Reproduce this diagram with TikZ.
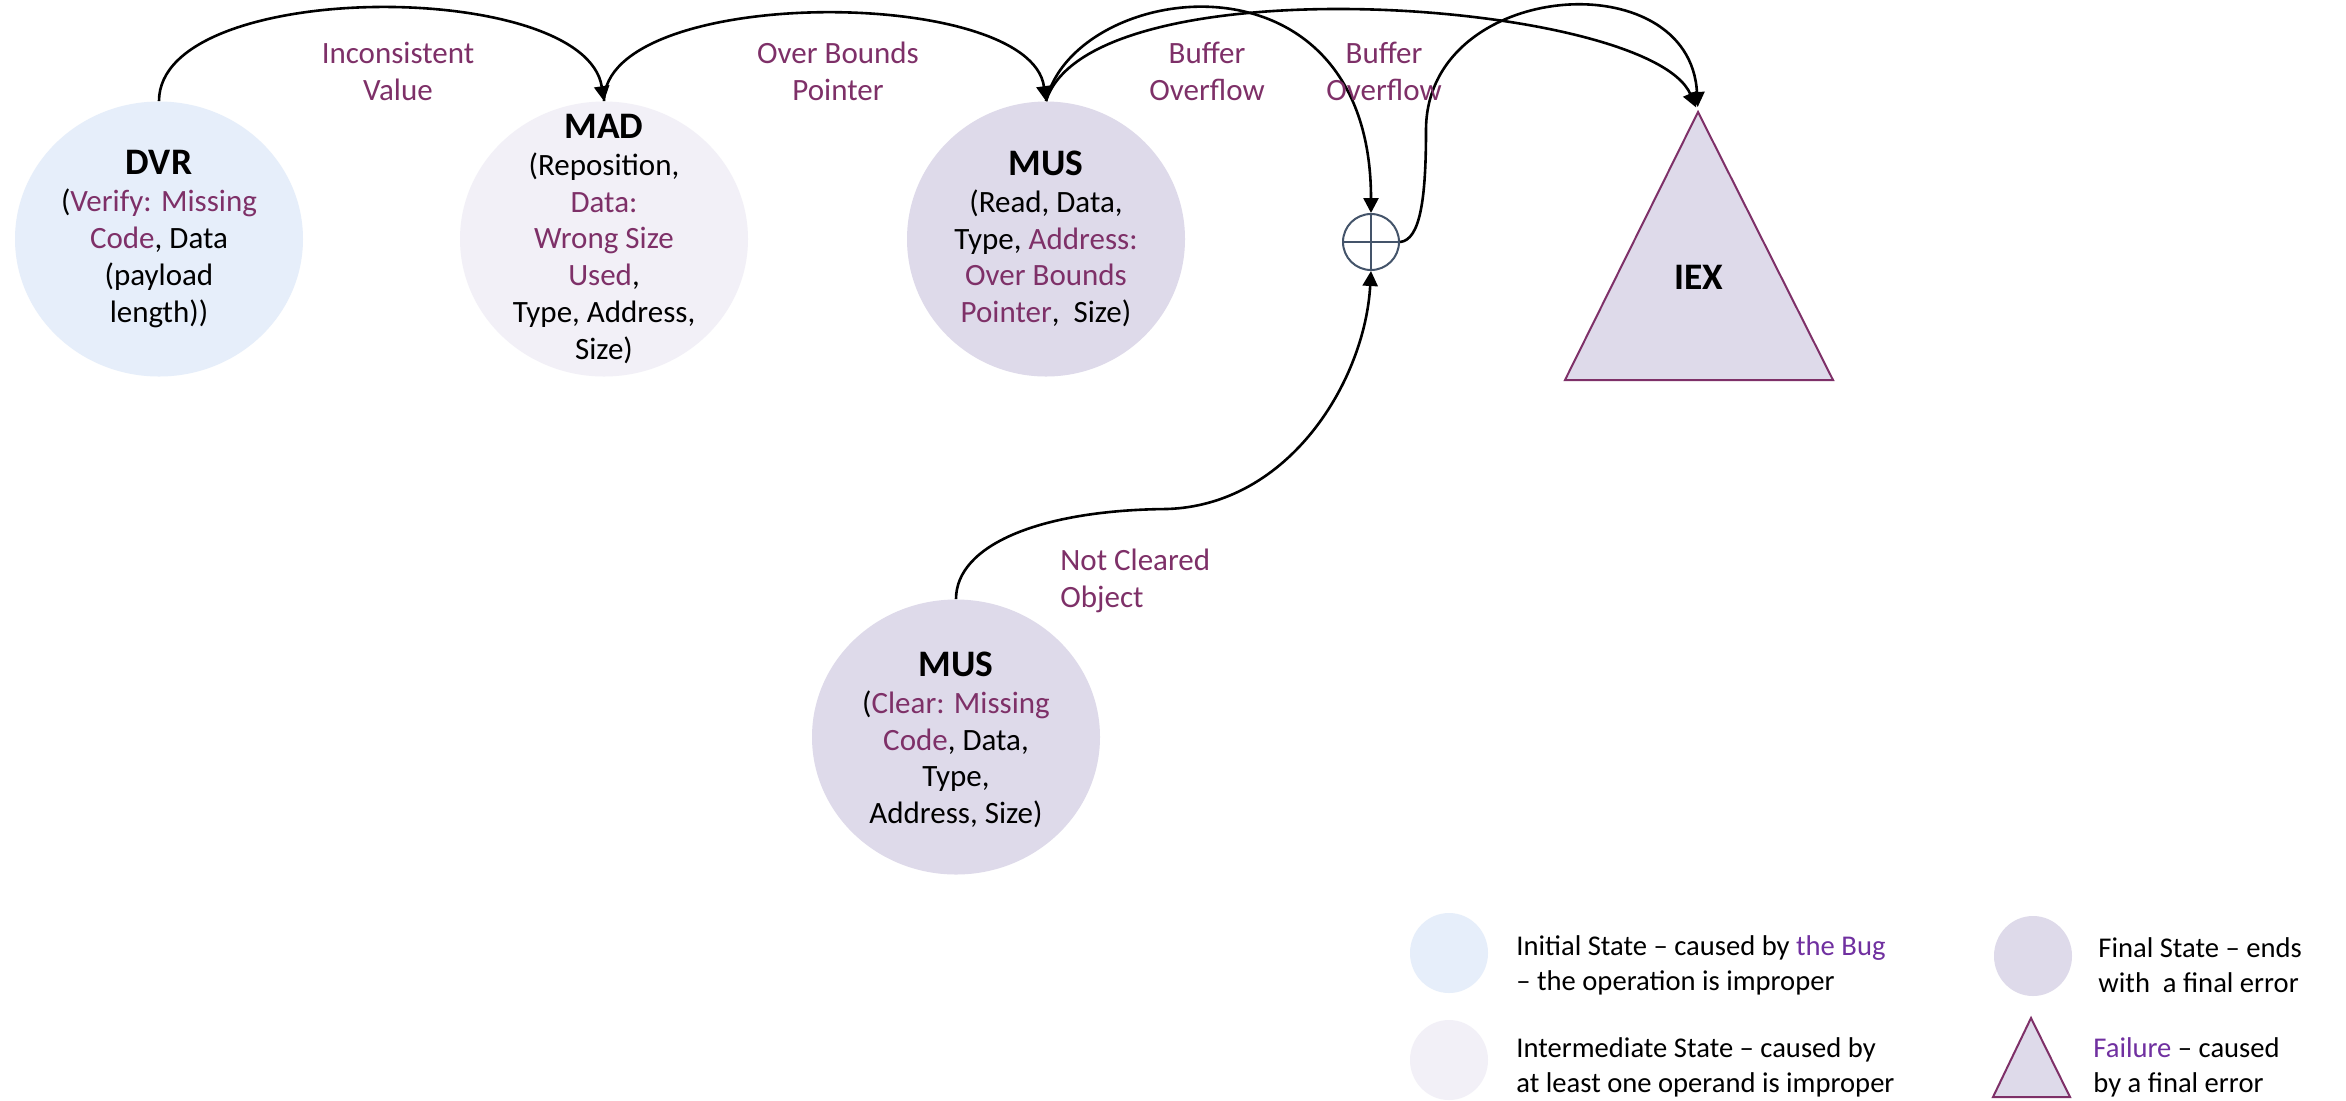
\documentclass[tikz,border=0pt]{standalone}
\usepackage{fontspec}
\setmainfont{Carlito}
\usetikzlibrary{arrows.meta,shapes.geometric}
\definecolor{lbl}{HTML}{7E3068}
\definecolor{bug}{HTML}{7030A0}
\definecolor{initfill}{HTML}{E6EEFA}
\definecolor{midfill}{HTML}{F2F0F7}
\definecolor{finfill}{HTML}{DEDAEA}
\definecolor{trist}{HTML}{7E3068}
\definecolor{xorc}{HTML}{44546A}
\newcommand\statetitle[1]{{\fontsize{18.7}{18.4}\selectfont\bfseries #1}}
\newcommand\pur[1]{\textcolor{lbl}{#1}}
\begin{document}
\begin{tikzpicture}[x=0.5pt,y=-0.5pt,
  stnode/.style={ellipse, draw=none, minimum width=144pt, minimum height=137.5pt, inner sep=0pt},
  sttext/.style={align=center, font=\fontsize{15.5}{18.4}\selectfont, inner sep=0pt},
  lbltext/.style={align=center, text=lbl, font=\fontsize{15.5}{18.5}\selectfont, inner sep=0pt},
  conn/.style={line width=1.3pt, -{Triangle[length=7.5pt,width=7.5pt]}},
  legtext/.style={align=left, anchor=west, font=\fontsize{14.3}{17.6}\selectfont, inner sep=0pt},
  legdot/.style={ellipse, draw=none, minimum width=39pt, minimum height=40pt, inner sep=0pt},
  tri/.style={draw=trist, line width=1pt, fill=finfill, line join=miter}
]
\fill[white] (0,0) rectangle (2346,1100);
\useasboundingbox (0,0) rectangle (2346,1100);

% states
\node[stnode, fill=initfill] (dvr) at (159,239) {};
\node[sttext] (dvrt) at (dvr.center) {\statetitle{DVR}\\(\pur{Verify: Missing}\\\pur{Code}, Data\\(payload\\length))};

\node[stnode, fill=midfill] (mad) at (604,239) {};
\node[sttext] (madt) at (mad.center) {\statetitle{MAD}\\(Reposition,\\\pur{Data:}\\\pur{Wrong Size}\\\pur{Used},\\Type, Address,\\Size)};

\node[stnode, fill=finfill, minimum width=139pt] (mus) at (1046,239) {};
\node[sttext] (must) at (mus.center) {\statetitle{MUS}\\(Read, Data,\\Type, \pur{Address:}\\\pur{Over Bounds}\\\pur{Pointer},~ Size)};

\node[stnode, fill=finfill] (mustwo) at (956,737) {};
\node[sttext] (mustwot) at ([yshift=-1.5pt]mustwo.center) {\statetitle{MUS}\\(\pur{Clear: Missing}\\\pur{Code}, Data,\\Type,\\Address, Size)};

% xor
\node[circle, draw=xorc, line width=1pt, minimum size=28pt, inner sep=0pt] (xor) at (1371,242) {};
\draw[xorc, line width=1pt] (xor.north) -- (xor.south) (xor.west) -- (xor.east);

% failure
\coordinate (iextop) at (1698,112);
\draw[tri] (iextop) -- (1833,380) -- (1565,380) -- cycle;
\node[font=\fontsize{18.7}{20}\selectfont\bfseries, inner sep=0pt] (iex) at (1699,277) {IEX};

% connectors
\draw[conn] (dvr.north) .. controls (159,-22) and (585,-22) .. (mad.north);
\draw[conn] (mad.north) .. controls (604,-15) and (1030,-15) .. (mus.north);
\draw[conn] (mus.north) .. controls (1075,-20) and (1371,-60) .. (xor.north);
\draw[conn, shorten >=2.5pt] (mus.north) .. controls (1090,-40) and (1650,0) .. (iextop);
\draw[conn, shorten >=2.5pt] (xor.east) .. controls (1420,240) and (1426,200) .. (1426,130)
   .. controls (1426,-20) and (1690,-40) .. (iextop);
\draw[conn] (mustwo.north) .. controls (956,545) and (1040,510) .. (1167,509)
   .. controls (1290,505) and (1365,380) .. (xor.south);

% edge labels
\node[lbltext] (l1) at (398,71) {Inconsistent\\Value};
\node[lbltext] (l2) at (838,71) {Over Bounds\\Pointer};
\node[lbltext] (l3) at (1207,71) {Buffer\\Overflow};
\node[lbltext] (l4) at (1384,71) {Buffer\\Overflow};
\node[lbltext, align=left, anchor=west] (l5) at (1060,581) {Not Cleared\\Object};

% legend
\node[legdot, fill=initfill] (lg1) at (1449,953) {};
\node[legtext] (lg1t) at (1516,965) {Initial State – caused by \textcolor{bug}{the Bug}\\– the operation is improper};
\node[legdot, fill=midfill] (lg2) at (1449,1060) {};
\node[legtext] (lg2t) at (1516,1067) {Intermediate State – caused by\\at least one operand is improper};
\node[legdot, fill=finfill] (lg3) at (2033,956) {};
\node[legtext] (lg3t) at (2098,965) {Final State – ends\\with~ a final error};
\draw[tri] (2031,1018) -- (2070,1097) -- (1993,1097) -- cycle;
\node[legtext] (lg4t) at (2093,1067) {\textcolor{bug}{Failure} – caused\\by a final error};
\end{tikzpicture}
\end{document}
